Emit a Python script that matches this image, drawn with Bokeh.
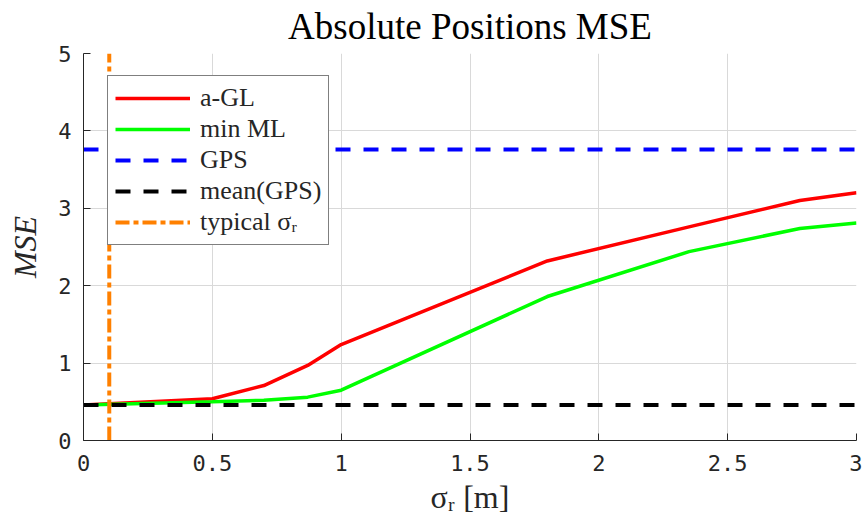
from bokeh.plotting import figure
from bokeh.models import Range1d, Legend, LegendItem, FixedTicker
from bokeh.embed import file_html
from bokeh.resources import INLINE

# ---- data ----
sigma_r = [0.0, 0.5, 0.7, 0.87, 1.0, 1.8, 2.35, 2.78, 3.0]
agl_mse = [0.46, 0.54, 0.71, 0.97, 1.24, 2.32, 2.76, 3.10, 3.20]
minml_mse = [0.46, 0.50, 0.52, 0.56, 0.65, 1.86, 2.44, 2.74, 2.81]
gps_mse = 3.76
mean_gps_mse = 0.46
typical_sigma_r = 0.10
x_ticks = [0, 0.5, 1, 1.5, 2, 2.5, 3]
y_ticks = [0, 1, 2, 3, 4, 5]

TXT = "#262626"
SERIF = "Liberation Serif"

p = figure(width=862, height=521, output_backend="svg", toolbar_location=None,
           x_range=Range1d(0, 3), y_range=Range1d(0, 5),
           min_border_left=83, min_border_right=6, min_border_top=53, min_border_bottom=81)

p.title.text = "Absolute Positions MSE"
p.title.align = "center"
p.title.vertical_align = "top"
p.title.text_font = SERIF
p.title.text_font_size = "37px"
p.title.text_font_style = "normal"
p.title.text_color = "black"
p.title.standoff = 9

p.outline_line_color = None
p.background_fill_color = "white"
p.border_fill_color = "white"

for ax, ticks in ((p.xaxis[0], x_ticks), (p.yaxis[0], y_ticks)):
    ax.ticker = FixedTicker(ticks=ticks)
    ax.major_tick_in = 7
    ax.major_tick_out = 0
    ax.minor_tick_line_color = None
    ax.axis_line_color = TXT
    ax.major_tick_line_color = TXT
    ax.major_label_text_font = "DejaVu Sans Mono"
    ax.major_label_text_font_size = "22px"
    ax.major_label_text_color = TXT
    ax.axis_label_text_font = SERIF
    ax.axis_label_text_font_size = "32px"
    ax.axis_label_text_color = TXT

p.xaxis.major_label_overrides = {0: "0", 0.5: "0.5", 1: "1", 1.5: "1.5", 2: "2", 2.5: "2.5", 3: "3"}
p.xaxis.axis_label = "σᵣ [m]"
p.xaxis.axis_label_text_font_style = "normal"
p.yaxis.axis_label = "MSE"
p.yaxis.axis_label_text_font_style = "italic"
p.xaxis.major_label_standoff = 14
p.yaxis.major_label_standoff = 12
p.yaxis.axis_label_standoff = 12

p.grid.grid_line_color = "#d9d9d9"
p.grid.grid_line_width = 1

xs_full = [min(sigma_r), max(sigma_r)]
r1 = p.line(sigma_r, agl_mse, line_color="#ff0000", line_width=3.5)
r2 = p.line(sigma_r, minml_mse, line_color="#00ff00", line_width=3.5)
r3 = p.line(xs_full, [gps_mse, gps_mse], line_color="#0000ff", line_width=4, line_dash="15 13")
r4 = p.line(xs_full, [mean_gps_mse, mean_gps_mse], line_color="black", line_width=4, line_dash="15 13")
r5 = p.line([typical_sigma_r, typical_sigma_r], [y_ticks[0], y_ticks[-1]], line_color="#ff8000",
            line_width=4, line_dash="14 4 5 4")

legend = Legend(items=[
    LegendItem(label="a-GL", renderers=[r1]),
    LegendItem(label="min ML", renderers=[r2]),
    LegendItem(label="GPS", renderers=[r3]),
    LegendItem(label="mean(GPS)", renderers=[r4]),
    LegendItem(label="typical σᵣ", renderers=[r5]),
], location=(24, 195))
legend.border_line_color = "black"
legend.border_line_width = 1
legend.background_fill_alpha = 1
legend.label_text_font = SERIF
legend.label_text_font_size = "26px"
legend.label_text_color = TXT
legend.glyph_width = 75
legend.glyph_height = 20
legend.label_height = 20
legend.label_standoff = 10
legend.spacing = 1
legend.padding = 7
legend.margin = 0
p.add_layout(legend, "center")

open("out.html", "w").write(file_html(p, INLINE))
